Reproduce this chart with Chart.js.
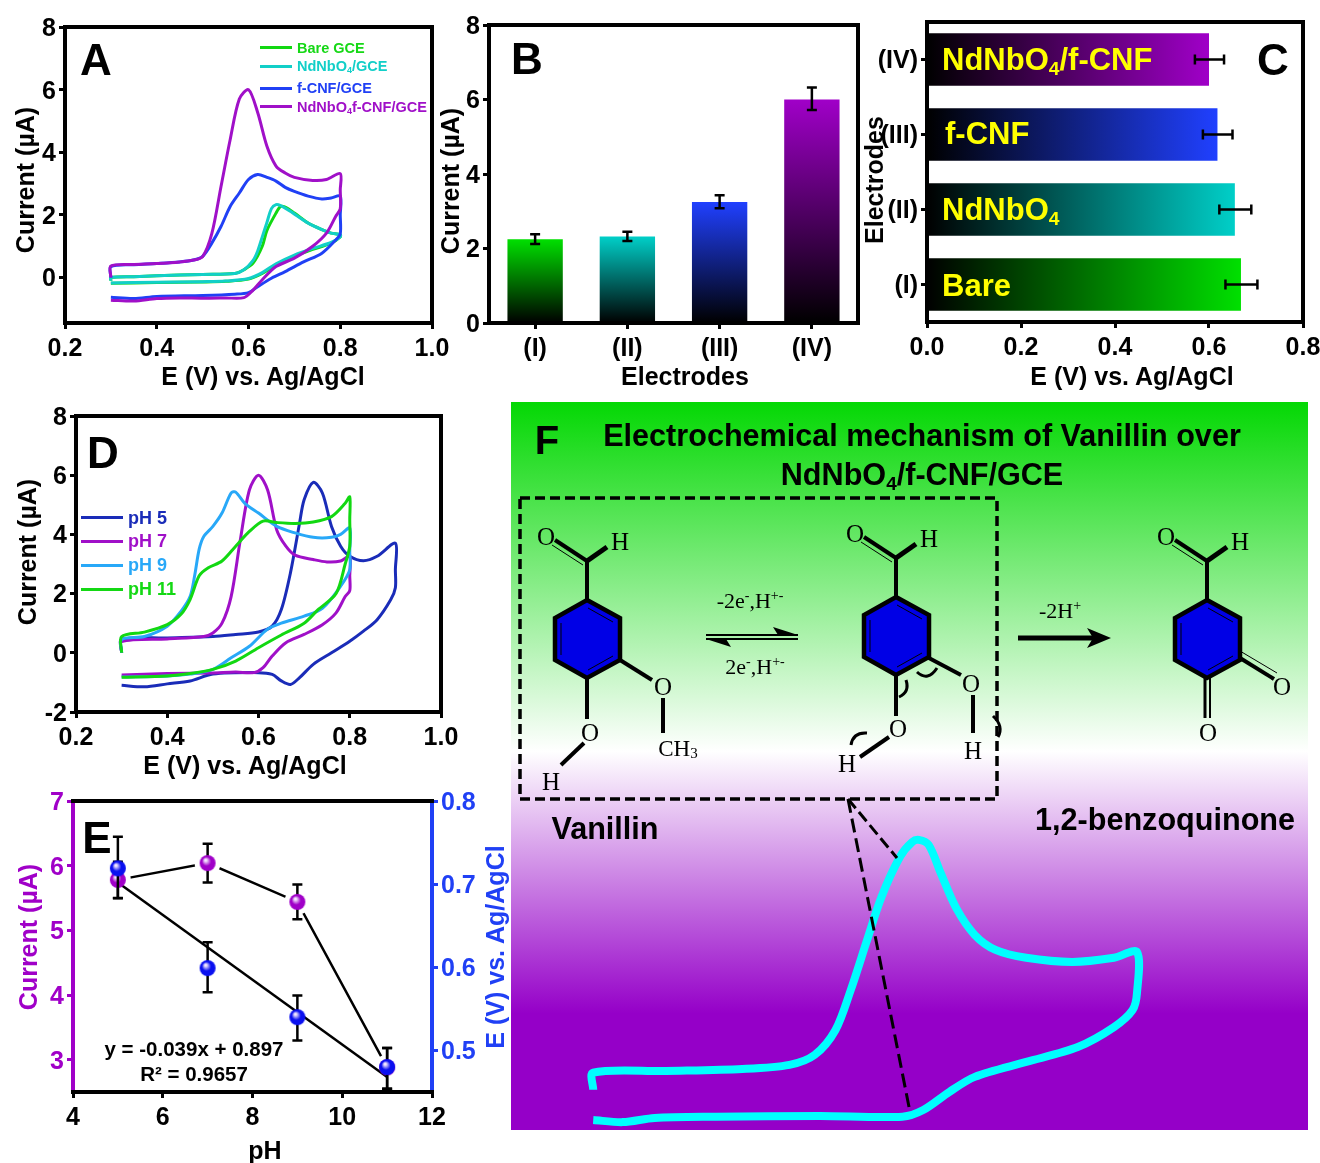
<!DOCTYPE html>
<html>
<head>
<meta charset="utf-8">
<title>Vanillin electrochemistry panels</title>
<script src="https://cdn.jsdelivr.net/npm/chart.js@4"></script>
<style>
    html, body { margin: 0; padding: 0; background: #fff; }
    #page { position: relative; width: 1320px; height: 1163px; overflow: hidden; font-family: "Liberation Sans", Arial, sans-serif; font-weight: bold; }
    canvas { position: absolute; }
    #schemeBg { position: absolute; left: 511px; top: 402px; width: 797px; height: 728px;
        background: linear-gradient(to bottom, #04d804 0%, #ffffff 48%, #9500c8 84%, #9500c8 100%); }
    #scheme { position: absolute; left: 0; top: 0; font-weight: normal; }
    .t { position: absolute; transform: translate(-50%, -50%); white-space: nowrap; line-height: 1; }
    .a { font-size: 25px; }
    .v { transform: translate(-50%, -50%) rotate(-90deg); }
    .l { position: absolute; transform: translateY(-50%); white-space: nowrap; line-height: 1; }
    .key { position: absolute; height: 3px; }
    sub { font-size: 62%; line-height: 0; vertical-align: -0.28em; }
</style>
</head>
<body>
<div id="page">
    <div id="schemeBg"></div>
    <canvas id="chartF"></canvas>
    <canvas id="chartA"></canvas>
    <canvas id="chartB"></canvas>
    <canvas id="chartC"></canvas>
    <canvas id="chartD"></canvas>
    <canvas id="chartE"></canvas>
    <svg id="scheme" width="1320" height="1163"></svg>

    <div class="t" style="left:96px;top:60px;font-size:44px">A</div>
    <div class="t" style="left:527px;top:59px;font-size:44px">B</div>
    <div class="t" style="left:1273px;top:60px;font-size:44px">C</div>
    <div class="t" style="left:103px;top:453px;font-size:44px">D</div>
    <div class="t" style="left:97px;top:838px;font-size:44px">E</div>
    <div class="t" style="left:547px;top:440px;font-size:40px">F</div>

    <!-- axis titles -->
    <div class="t a" style="left:263px;top:376px">E (V) vs. Ag/AgCl</div>
    <div class="t a v" style="left:25px;top:180px">Current (µA)</div>
    <div class="t a" style="left:685px;top:376px">Electrodes</div>
    <div class="t a v" style="left:450px;top:181px">Current (µA)</div>
    <div class="t a" style="left:1132px;top:376px">E (V) vs. Ag/AgCl</div>
    <div class="t a v" style="left:874px;top:180px">Electrodes</div>
    <div class="t a" style="left:245px;top:765px">E (V) vs. Ag/AgCl</div>
    <div class="t a v" style="left:27px;top:552px">Current (µA)</div>
    <div class="t a" style="left:265px;top:1150px">pH</div>
    <div class="t a v" style="left:28px;top:937px;color:#a000c8">Current (µA)</div>
    <div class="t a v" style="left:495px;top:947px;color:#2040f5">E (V) vs. Ag/AgCl</div>

    <div class="key" style="left:260px;top:46px;width:32px;background:#12d812"></div>
    <div class="l" style="left:297px;top:48px;font-size:14.5px;color:#16d816">Bare GCE</div>
    <div class="key" style="left:260px;top:65px;width:32px;background:#12cfc8"></div>
    <div class="l" style="left:297px;top:66px;font-size:14.5px;color:#12cfc8">NdNbO<sub>4</sub>/GCE</div>
    <div class="key" style="left:260px;top:87px;width:32px;background:#2040f5"></div>
    <div class="l" style="left:297px;top:88px;font-size:14.5px;color:#2040f5">f-CNF/GCE</div>
    <div class="key" style="left:260px;top:105px;width:32px;background:#a010c8"></div>
    <div class="l" style="left:297px;top:107px;font-size:14.5px;color:#a010c8">NdNbO<sub>4</sub>f-CNF/GCE</div>

    <div class="l" style="left:942px;top:59px;font-size:31px;color:#ffff00">NdNbO<sub>4</sub>/f-CNF</div>
    <div class="l" style="left:945px;top:133px;font-size:31px;color:#ffff00">f-CNF</div>
    <div class="l" style="left:942px;top:209px;font-size:31px;color:#ffff00">NdNbO<sub>4</sub></div>
    <div class="l" style="left:942px;top:285px;font-size:31px;color:#ffff00">Bare</div>

    <div class="key" style="left:81px;top:516px;width:42px;background:#1a2cb8"></div>
    <div class="l" style="left:128px;top:518px;font-size:18px;color:#1a2cb8">pH 5</div>
    <div class="key" style="left:81px;top:540px;width:42px;background:#a010c8"></div>
    <div class="l" style="left:128px;top:541px;font-size:18px;color:#a010c8">pH 7</div>
    <div class="key" style="left:81px;top:564px;width:42px;background:#28a8f8"></div>
    <div class="l" style="left:128px;top:565px;font-size:18px;color:#28a8f8">pH 9</div>
    <div class="key" style="left:81px;top:588px;width:42px;background:#14d814"></div>
    <div class="l" style="left:128px;top:589px;font-size:18px;color:#14d814">pH 11</div>

    <div class="t" style="left:194px;top:1049px;font-size:20.5px">y = -0.039x + 0.897</div>
    <div class="t" style="left:194px;top:1074px;font-size:20.5px">R² = 0.9657</div>

    <div class="t" style="left:922px;top:435px;font-size:30.6px">Electrochemical mechanism of Vanillin over</div>
    <div class="t" style="left:922px;top:474px;font-size:30.6px">NdNbO<sub>4</sub>/f-CNF/GCE</div>
    <div class="t" style="left:605px;top:828px;font-size:30.6px">Vanillin</div>
    <div class="t" style="left:1165px;top:819px;font-size:30.6px">1,2-benzoquinone</div>
</div>

<script>
    // ========================================================================
    // Data
    // ========================================================================

    const cvXTicks = [0.2, 0.4, 0.6, 0.8, 1.0];

    // Panel A, cyclic voltammograms
    const aYTicks = [0, 2, 4, 6, 8];
    const aBareE = [0.3, 0.3, 0.35, 0.4, 0.5, 0.57, 0.59, 0.61, 0.63, 0.64, 0.66, 0.67, 0.68, 0.70, 0.73, 0.76, 0.78, 0.8, 0.8, 0.78, 0.74, 0.7, 0.66, 0.63, 0.6, 0.55, 0.5, 0.4, 0.3];
    const aBareI = [-0.1, 0.0, 0.03, 0.06, 0.1, 0.13, 0.25, 0.46, 1.0, 1.5, 2.06, 2.27, 2.25, 2.06, 1.74, 1.53, 1.42, 1.37, 1.3, 1.1, 0.9, 0.68, 0.4, 0.13, -0.05, -0.12, -0.14, -0.16, -0.18];
    const aOxideE = [0.3, 0.3, 0.35, 0.4, 0.5, 0.57, 0.59, 0.61, 0.62, 0.63, 0.64, 0.65, 0.66, 0.67, 0.69, 0.73, 0.76, 0.78, 0.8, 0.8, 0.78, 0.74, 0.7, 0.66, 0.63, 0.6, 0.55, 0.5, 0.4, 0.3];
    const aOxideI = [-0.1, 0.0, 0.03, 0.06, 0.1, 0.13, 0.25, 0.55, 0.85, 1.3, 1.75, 2.2, 2.33, 2.3, 2.13, 1.74, 1.53, 1.42, 1.37, 1.3, 1.12, 0.93, 0.72, 0.44, 0.16, -0.03, -0.11, -0.13, -0.15, -0.17];
    const aFiberE = [0.3, 0.3, 0.35, 0.4, 0.45, 0.48, 0.5, 0.52, 0.54, 0.56, 0.58, 0.60, 0.62, 0.64, 0.66, 0.68, 0.7, 0.73, 0.76, 0.78, 0.8, 0.8, 0.8, 0.79, 0.76, 0.72, 0.68, 0.65, 0.62, 0.6, 0.57, 0.5, 0.4, 0.35, 0.3];
    const aFiberI = [0.0, 0.35, 0.41, 0.45, 0.5, 0.56, 0.68, 1.1, 1.63, 2.27, 2.7, 3.13, 3.29, 3.2, 3.08, 2.88, 2.75, 2.6, 2.51, 2.54, 2.6, 2.0, 1.4, 1.2, 0.78, 0.5, 0.19, -0.02, -0.29, -0.48, -0.53, -0.57, -0.6, -0.67, -0.63];
    const aHybridE = [0.3, 0.3, 0.35, 0.4, 0.45, 0.48, 0.5, 0.52, 0.54, 0.56, 0.58, 0.6, 0.62, 0.64, 0.66, 0.68, 0.70, 0.74, 0.77, 0.8, 0.8, 0.8, 0.79, 0.77, 0.74, 0.7, 0.66, 0.63, 0.61, 0.59, 0.55, 0.5, 0.45, 0.4, 0.35, 0.3];
    const aHybridI = [0.0, 0.37, 0.42, 0.45, 0.5, 0.56, 0.67, 1.4, 2.9, 4.4, 5.7, 6.0, 5.27, 4.2, 3.56, 3.34, 3.2, 3.1, 3.13, 3.32, 2.8, 2.2, 1.95, 1.42, 1.0, 0.62, 0.35, -0.07, -0.4, -0.64, -0.65, -0.66, -0.65, -0.67, -0.75, -0.72];

    // Panel B, peak current per electrode
    const bLabels = ['(I)', '(II)', '(III)', '(IV)'];
    const bYTicks = [0, 2, 4, 6, 8];
    const bCurrent = [2.25, 2.32, 3.25, 6.0];
    const bLow = [2.12, 2.2, 3.08, 5.72];
    const bHigh = [2.38, 2.45, 3.43, 6.32];

    // Panel C, peak potential per electrode (top row first)
    const cLabels = ['(IV)', '(III)', '(II)', '(I)'];
    const cXTicks = [0.0, 0.2, 0.4, 0.6, 0.8];
    const cPotential = [0.6, 0.618, 0.655, 0.668];
    const cLow = [0.57, 0.587, 0.622, 0.635];
    const cHigh = [0.632, 0.65, 0.69, 0.703];

    // Panel D, voltammograms at four pH values
    const dYTicks = [-2, 0, 2, 4, 6, 8];
    const dPh5E = [0.3, 0.3, 0.4, 0.5, 0.55, 0.6, 0.63, 0.65, 0.67, 0.69, 0.7, 0.72, 0.74, 0.76, 0.78, 0.8, 0.83, 0.86, 0.9, 0.9, 0.9, 0.89, 0.86, 0.83, 0.8, 0.76, 0.72, 0.69, 0.67, 0.65, 0.63, 0.6, 0.5, 0.45, 0.4, 0.35, 0.3];
    const dPh5I = [0.0, 0.45, 0.5, 0.55, 0.62, 0.7, 0.9, 1.46, 2.7, 4.38, 5.17, 5.76, 5.4, 4.27, 3.6, 3.26, 3.11, 3.26, 3.7, 2.8, 2.2, 1.8, 1.12, 0.73, 0.39, 0.0, -0.39, -0.84, -1.07, -0.95, -0.73, -0.67, -0.72, -0.95, -1.05, -1.15, -1.1];
    const dPh7E = [0.3, 0.3, 0.4, 0.48, 0.5, 0.52, 0.54, 0.56, 0.58, 0.6, 0.62, 0.64, 0.66, 0.68, 0.72, 0.75, 0.78, 0.8, 0.8, 0.8, 0.79, 0.77, 0.74, 0.7, 0.66, 0.63, 0.61, 0.59, 0.55, 0.5, 0.4, 0.3];
    const dPh7I = [0.0, 0.38, 0.47, 0.55, 0.67, 1.0, 1.9, 3.8, 5.5, 6.0, 5.5, 4.15, 3.6, 3.3, 3.15, 3.07, 3.1, 3.26, 2.6, 2.1, 1.9, 1.35, 0.95, 0.62, 0.34, -0.11, -0.5, -0.67, -0.65, -0.68, -0.7, -0.75];
    const dPh9E = [0.3, 0.3, 0.35, 0.4, 0.43, 0.45, 0.46, 0.47, 0.48, 0.5, 0.52, 0.54, 0.55, 0.57, 0.6, 0.64, 0.68, 0.72, 0.76, 0.78, 0.8, 0.8, 0.8, 0.78, 0.74, 0.7, 0.65, 0.62, 0.58, 0.54, 0.5, 0.45, 0.4, 0.3];
    const dPh9I = [0.0, 0.45, 0.55, 0.9, 1.4, 1.9, 2.6, 3.5, 3.93, 4.27, 4.72, 5.4, 5.43, 5.05, 4.72, 4.27, 4.05, 3.9, 3.9, 4.0, 4.22, 3.4, 2.8, 2.25, 1.5, 1.24, 1.0, 0.8, 0.22, -0.17, -0.56, -0.72, -0.78, -0.82];
    const dPh11E = [0.3, 0.3, 0.35, 0.4, 0.43, 0.45, 0.47, 0.49, 0.52, 0.55, 0.58, 0.61, 0.64, 0.68, 0.72, 0.76, 0.79, 0.8, 0.8, 0.8, 0.79, 0.77, 0.73, 0.7, 0.65, 0.6, 0.55, 0.5, 0.45, 0.4, 0.3];
    const dPh11I = [0.0, 0.55, 0.7, 0.95, 1.3, 1.8, 2.6, 2.87, 3.1, 3.6, 4.1, 4.45, 4.4, 4.37, 4.42, 4.6, 5.05, 5.27, 4.5, 3.6, 3.0, 2.0, 1.45, 1.0, 0.6, 0.17, -0.28, -0.56, -0.7, -0.78, -0.83];

    // Panel E, current and potential against pH
    const ePh = [5, 7, 9, 11];
    const eXTicks = [4, 6, 8, 10, 12];
    const eLeftTicks = [3, 4, 5, 6, 7];
    const eRightTicks = [0.5, 0.6, 0.7, 0.8];
    const eCurrent = [5.78, 6.04, 5.44, 2.88];
    const eCurrentLow = [5.5, 5.74, 5.17, 2.55];
    const eCurrentHigh = [6.06, 6.34, 5.71, 3.18];
    const ePotential = [0.719, 0.599, 0.54, 0.48];
    const ePotentialLow = [0.683, 0.57, 0.512, 0.454];
    const ePotentialHigh = [0.757, 0.63, 0.566, 0.503];
    const eFitPh = [5, 11];
    const eFitPotential = [0.702, 0.468];

    // Panel F, cyan voltammogram under the scheme
    const fE = [0.301, 0.301, 0.367, 0.437, 0.48, 0.503, 0.522, 0.536, 0.55, 0.564, 0.581, 0.592, 0.598, 0.607, 0.618, 0.632, 0.649, 0.668, 0.696, 0.738, 0.776, 0.797, 0.797, 0.793, 0.776, 0.743, 0.696, 0.649, 0.626, 0.602, 0.583, 0.508, 0.413, 0.357, 0.328, 0.301];
    const fI = [-0.02, 0.39, 0.43, 0.48, 0.58, 0.82, 1.42, 2.39, 3.52, 4.63, 5.6, 5.95, 6.0, 5.88, 5.2, 4.36, 3.71, 3.35, 3.16, 3.06, 3.16, 3.3, 2.31, 1.9, 1.49, 1.01, 0.65, 0.29, -0.07, -0.51, -0.67, -0.65, -0.67, -0.7, -0.8, -0.75];

    // ========================================================================
    // Helpers and plugins
    // ========================================================================

    const GREEN = '#12d812', TEAL = '#12cfc8', BLUE = '#2040f5', PURPLE = '#a010c8';
    const NAVY = '#1a2cb8', SKY = '#28a8f8';

    Chart.defaults.font.family = '"Liberation Sans", Arial, sans-serif';
    Chart.defaults.font.weight = 'bold';
    Chart.defaults.font.size = 25;
    Chart.defaults.color = '#000';
    Chart.defaults.animation = false;
    Chart.defaults.responsive = false;
    Chart.defaults.devicePixelRatio = 1;
    Chart.defaults.plugins.legend.display = false;
    Chart.defaults.plugins.tooltip.enabled = false;

    const points = (xs, ys) => xs.map((x, i) => ({ x, y: ys[i] }));

    const curve = (label, xs, ys, color, width = 3) => ({
        label,
        data: points(xs, ys),
        borderColor: color,
        borderWidth: width,
        showLine: true,
        pointRadius: 0,
        tension: 0.3
    });

    // Outline of the plot area, one colour per side
    const framePlugin = {
        id: 'frame',
        afterDraw(chart, args, opts) {
            const { ctx, chartArea: a } = chart;
            ctx.save();
            ctx.lineWidth = 4;
            ctx.lineCap = 'square';
            [['left', a.left, a.top, a.left, a.bottom],
             ['right', a.right, a.top, a.right, a.bottom],
             ['top', a.left, a.top, a.right, a.top],
             ['bottom', a.left, a.bottom, a.right, a.bottom]].forEach(([side, x1, y1, x2, y2]) => {
                ctx.strokeStyle = opts[side] || '#000';
                ctx.beginPath();
                ctx.moveTo(x1, y1);
                ctx.lineTo(x2, y2);
                ctx.stroke();
            });
            ctx.restore();
        }
    };

    // Error bars from errLow / errHigh on a dataset, in data units
    function drawErrors(chart, meta, ds) {
        if (!ds.errLow) return;
        const { ctx } = chart;
        const horizontal = chart.options.indexAxis === 'y';
        const cap = 5;
        ctx.save();
        ctx.strokeStyle = '#000';
        ctx.lineWidth = 2.5;
        ds.errLow.forEach((low, i) => {
            const el = meta.data[i];
            ctx.beginPath();
            if (horizontal) {
                const scale = chart.scales[meta.xAxisID];
                const a = scale.getPixelForValue(low), b = scale.getPixelForValue(ds.errHigh[i]);
                ctx.moveTo(a, el.y); ctx.lineTo(b, el.y);
                ctx.moveTo(a, el.y - cap); ctx.lineTo(a, el.y + cap);
                ctx.moveTo(b, el.y - cap); ctx.lineTo(b, el.y + cap);
            } else {
                const scale = chart.scales[meta.yAxisID];
                const a = scale.getPixelForValue(low), b = scale.getPixelForValue(ds.errHigh[i]);
                ctx.moveTo(el.x, a); ctx.lineTo(el.x, b);
                ctx.moveTo(el.x - cap, a); ctx.lineTo(el.x + cap, a);
                ctx.moveTo(el.x - cap, b); ctx.lineTo(el.x + cap, b);
            }
            ctx.stroke();
        });
        ctx.restore();
    }

    const errorBarPlugin = {
        id: 'errorBars',
        beforeDatasetDraw(chart, args, opts) {
            if (opts.behind) drawErrors(chart, args.meta, chart.data.datasets[args.index]);
        },
        afterDatasetDraw(chart, args, opts) {
            if (!opts.behind) drawErrors(chart, args.meta, chart.data.datasets[args.index]);
        }
    };

    function fixSize(size) {
        return scale => {
            scale.paddingLeft = scale.paddingRight = scale.paddingTop = scale.paddingBottom = 0;
            if (scale.isHorizontal()) scale.height = size; else scale.width = size;
        };
    }

    function axis(min, max, tickValues, extra = {}) {
        const { decimals = 0, color = '#000', size, vertical = true } = extra;
        return {
            type: 'linear',
            min,
            max,
            position: extra.position,
            border: { display: false },
            grid: { drawOnChartArea: false, tickLength: 6, tickWidth: 3, tickColor: color },
            afterBuildTicks(scale) { scale.ticks = tickValues.map(value => ({ value })); },
            afterFit: fixSize(size),
            ticks: {
                autoSkip: false,
                maxRotation: 0,
                color,
                padding: vertical ? 3 : 5,
                labelOffset: vertical ? 2 : 0,
                callback: v => v.toFixed(decimals)
            }
        };
    }

    function categoryAxis(size, vertical) {
        return {
            type: 'category',
            border: { display: false },
            grid: { offset: false, drawOnChartArea: false, tickLength: 6, tickWidth: 3, tickColor: '#000' },
            afterFit: fixSize(size),
            ticks: { autoSkip: false, maxRotation: 0, padding: vertical ? 3 : 5, labelOffset: vertical ? 2 : 0 }
        };
    }

    // Puts a canvas at box and fixes the plot area to plot, both in page pixels
    function place(id, box, plot) {
        const canvas = document.getElementById(id);
        canvas.style.left = box.l + 'px';
        canvas.style.top = box.t + 'px';
        canvas.width = box.r - box.l;
        canvas.height = box.b - box.t;
        return {
            canvas,
            padding: { left: 0, top: plot.t - box.t, right: box.r - plot.r, bottom: 0 },
            xSize: box.b - plot.b,
            ySize: plot.l - box.l
        };
    }

    function barGradient(colors, horizontal) {
        return c => {
            const { chart, dataIndex, parsed } = c;
            if (!chart.chartArea || !parsed) return colors[dataIndex];
            const g = horizontal
                ? chart.ctx.createLinearGradient(chart.scales.x.getPixelForValue(0), 0, chart.scales.x.getPixelForValue(parsed.x), 0)
                : chart.ctx.createLinearGradient(0, chart.scales.y.getPixelForValue(0), 0, chart.scales.y.getPixelForValue(parsed.y));
            g.addColorStop(0, '#000');
            g.addColorStop(1, colors[dataIndex]);
            return g;
        };
    }

    function sphere(color) {
        const c = document.createElement('canvas');
        c.width = c.height = 18;
        const g2 = c.getContext('2d');
        const g = g2.createRadialGradient(7, 6, 1, 9, 9, 9);
        g.addColorStop(0, '#f4e8ff');
        g.addColorStop(0.45, color);
        g.addColorStop(1, color);
        g2.fillStyle = g;
        g2.beginPath();
        g2.arc(9, 9, 8, 0, Math.PI * 2);
        g2.fill();
        return c;
    }

    // ========================================================================
    // Panels A to F
    // ========================================================================

    const boxA = place('chartA', { l: 10, t: 5, r: 450, b: 391 }, { l: 65, t: 27, r: 432, b: 323 });
    new Chart(boxA.canvas, {
        type: 'scatter',
        data: { datasets: [
            curve('NdNbO4/f-CNF/GCE', aHybridE, aHybridI, PURPLE),
            curve('f-CNF/GCE', aFiberE, aFiberI, BLUE),
            curve('NdNbO4/GCE', aOxideE, aOxideI, TEAL),
            curve('Bare GCE', aBareE, aBareI, GREEN)
        ] },
        options: {
            layout: { padding: boxA.padding },
            scales: {
                x: axis(0.2, 1.0, cvXTicks, { decimals: 1, vertical: false, size: boxA.xSize }),
                y: axis(-1.45, 8, aYTicks, { size: boxA.ySize })
            }
        },
        plugins: [framePlugin]
    });

    const boxB = place('chartB', { l: 436, t: 5, r: 870, b: 391 }, { l: 489, t: 25, r: 858, b: 323 });
    new Chart(boxB.canvas, {
        type: 'bar',
        data: {
            labels: bLabels,
            datasets: [{
                data: bCurrent,
                errLow: bLow,
                errHigh: bHigh,
                backgroundColor: barGradient(['#00e000', '#00cfc8', '#2040ff', '#a000c8'], false),
                barPercentage: 0.6,
                categoryPercentage: 1
            }]
        },
        options: {
            layout: { padding: boxB.padding },
            scales: {
                x: categoryAxis(boxB.xSize, false),
                y: axis(0, 8, bYTicks, { size: boxB.ySize })
            }
        },
        plugins: [errorBarPlugin, framePlugin]
    });

    const boxC = place('chartC', { l: 861, t: 5, r: 1320, b: 391 }, { l: 927, t: 22, r: 1303, b: 322 });
    new Chart(boxC.canvas, {
        type: 'bar',
        data: {
            labels: cLabels,
            datasets: [{
                data: cPotential,
                errLow: cLow,
                errHigh: cHigh,
                backgroundColor: barGradient(['#a000c8', '#2040ff', '#00cfc8', '#00e000'], true),
                barPercentage: 0.7,
                categoryPercentage: 1
            }]
        },
        options: {
            indexAxis: 'y',
            layout: { padding: boxC.padding },
            scales: {
                x: axis(0, 0.8, cXTicks, { decimals: 1, vertical: false, size: boxC.xSize }),
                y: categoryAxis(boxC.ySize, true)
            }
        },
        plugins: [errorBarPlugin, framePlugin]
    });

    const boxD = place('chartD', { l: 13, t: 400, r: 470, b: 779 }, { l: 76, t: 416, r: 441, b: 712 });
    new Chart(boxD.canvas, {
        type: 'scatter',
        data: { datasets: [
            curve('pH 11', dPh11E, dPh11I, GREEN),
            curve('pH 9', dPh9E, dPh9I, SKY),
            curve('pH 7', dPh7E, dPh7I, PURPLE),
            curve('pH 5', dPh5E, dPh5I, NAVY)
        ] },
        options: {
            layout: { padding: boxD.padding },
            scales: {
                x: axis(0.2, 1.0, cvXTicks, { decimals: 1, vertical: false, size: boxD.xSize }),
                y: axis(-2, 8, dYTicks, { size: boxD.ySize })
            }
        },
        plugins: [framePlugin]
    });

    const boxE = place('chartE', { l: 14, t: 785, r: 520, b: 1163 }, { l: 73, t: 801, r: 432, b: 1092 });
    new Chart(boxE.canvas, {
        type: 'scatter',
        data: { datasets: [
            {
                label: 'E vs pH',
                data: points(ePh, ePotential),
                yAxisID: 'y1',
                errLow: ePotentialLow,
                errHigh: ePotentialHigh,
                pointStyle: sphere('#0a10f0'),
                pointRadius: 8
            },
            {
                label: 'Current vs pH',
                data: points(ePh, eCurrent),
                errLow: eCurrentLow,
                errHigh: eCurrentHigh,
                pointStyle: sphere('#a000c8'),
                pointRadius: 8
            },
            {
                label: 'Linear fit',
                data: points(eFitPh, eFitPotential),
                yAxisID: 'y1',
                showLine: true,
                borderColor: '#000',
                borderWidth: 2.5,
                pointRadius: 0
            },
            {
                label: 'Current line',
                data: points(ePh, eCurrent),
                showLine: true,
                borderColor: '#000',
                borderWidth: 2.5,
                pointRadius: 13,
                pointBackgroundColor: '#fff',
                pointBorderWidth: 0
            }
        ] },
        options: {
            layout: { padding: { ...boxE.padding, right: 0 } },
            scales: {
                x: axis(4, 12, eXTicks, { vertical: false, size: boxE.xSize }),
                y: axis(2.5, 7, eLeftTicks, { color: '#a000c8', size: boxE.ySize }),
                y1: axis(0.45, 0.8, eRightTicks, { decimals: 1, color: BLUE, position: 'right', size: 88 })
            },
            plugins: {
                errorBars: { behind: true },
                frame: { left: '#a000c8', right: BLUE }
            }
        },
        plugins: [errorBarPlugin, framePlugin]
    });

    // Axes hidden, E and I scales chosen so the loop sits where the scheme has it
    const boxF = place('chartF', { l: 511, t: 402, r: 1308, b: 1130 }, { l: 511, t: 402, r: 1308, b: 1130 });
    new Chart(boxF.canvas, {
        type: 'scatter',
        data: { datasets: [curve('Vanillin CV', fE, fI, '#00ffff', 8)] },
        options: {
            layout: { padding: 0 },
            scales: {
                x: { display: false, min: 0.226, max: 0.953 },
                y: { display: false, min: -0.99, max: 16.55 }
            }
        }
    });

    // ========================================================================
    // Reaction scheme over panel F
    // ========================================================================

    const atom = (x, y, label) =>
        `<text x="${x}" y="${y}" text-anchor="middle" dominant-baseline="central" font-family="Liberation Serif" font-size="25" fill="#000">${label}</text>`;
    const bond = (x1, y1, x2, y2, w = 4) =>
        `<line x1="${x1}" y1="${y1}" x2="${x2}" y2="${y2}" stroke="#000" stroke-width="${w}"/>`;

    // Ring with its aldehyde group, (x, y) is the top ring atom
    function ring(x, y) {
        return `<polygon points="${x},${y} ${x + 33},${y + 18} ${x + 33},${y + 60} ${x},${y + 78} ${x - 32},${y + 60} ${x - 32},${y + 18}"
                    fill="#0000e6" stroke="#000" stroke-width="4.5" stroke-linejoin="miter"/>`
            + bond(x + 1, y + 8, x + 26, y + 22, 1)
            + bond(x - 26, y + 23, x - 26, y + 55, 1)
            + bond(x + 26, y + 56, x + 1, y + 70, 1)
            + bond(x, y, x, y - 39)
            + bond(x, y - 39, x - 32, y - 60)
            + bond(x - 4, y - 35, x - 35, y - 55, 1)
            + bond(x, y - 39, x + 20, y - 53, 5)
            + atom(x - 41, y - 64, 'O')
            + atom(x + 33, y - 59, 'H');
    }

    const curl = (d) => `<path d="${d}" fill="none" stroke="#000" stroke-width="3"/>`;

    document.getElementById('scheme').innerHTML = [
        `<rect x="520" y="498" width="477" height="301" fill="none" stroke="#000" stroke-width="3.5" stroke-dasharray="10 5"/>`,
        `<line x1="848" y1="799" x2="910" y2="1112" stroke="#000" stroke-width="3" stroke-dasharray="14 6"/>`,
        `<line x1="848" y1="799" x2="897" y2="858" stroke="#000" stroke-width="3" stroke-dasharray="12 5"/>`,

        // Vanillin
        ring(587, 600),
        bond(620, 660, 652, 680), atom(663, 686, 'O'), bond(663, 698, 663, 733),
        `<text x="678" y="748" text-anchor="middle" dominant-baseline="central" font-family="Liberation Serif" font-size="23">CH<tspan font-size="15" dy="5">3</tspan></text>`,
        bond(587, 678, 587, 719), atom(590, 732, 'O'), bond(584, 743, 561, 765), atom(551, 781, 'H'),

        // Intermediate
        ring(896, 597),
        bond(927, 657, 961, 675), atom(971, 683, 'O'), bond(973, 695, 973, 733), atom(973, 750, 'H'),
        bond(896, 675, 896, 716), atom(898, 728, 'O'), bond(889, 737, 860, 757), atom(847, 763, 'H'),
        curl('M917 672 Q928 682 937 668'), curl('M906 680 Q910 692 899 697'),
        curl('M851 745 Q853 732 867 733'), curl('M993 716 Q1004 726 998 737'),

        // Benzoquinone
        ring(1207, 600),
        bond(1240, 658, 1274, 679), bond(1240, 651, 1277, 673, 1), atom(1282, 686, 'O'),
        bond(1205, 678, 1205, 718, 3), bond(1210, 678, 1210, 718, 2), atom(1208, 732, 'O'),

        // Arrows
        `<line x1="706" y1="635" x2="798" y2="635" stroke="#000" stroke-width="2"/><path d="M798 635 L773 627 L778 635 Z" fill="#000"/>`,
        `<line x1="706" y1="639" x2="798" y2="639" stroke="#000" stroke-width="2"/><path d="M706 639 L731 647 L726 639 Z" fill="#000"/>`,
        `<line x1="1018" y1="638" x2="1095" y2="638" stroke="#000" stroke-width="5"/><path d="M1111 638 L1087 628 L1093 638 L1087 648 Z" fill="#000"/>`,
        `<text x="750" y="608" text-anchor="middle" font-family="Liberation Serif" font-size="22">-2e<tspan font-size="14" dy="-8">-</tspan><tspan dy="8">,H</tspan><tspan font-size="14" dy="-8">+-</tspan></text>`,
        `<text x="755" y="674" text-anchor="middle" font-family="Liberation Serif" font-size="22">2e<tspan font-size="14" dy="-8">-</tspan><tspan dy="8">,H</tspan><tspan font-size="14" dy="-8">+-</tspan></text>`,
        `<text x="1060" y="618" text-anchor="middle" font-family="Liberation Serif" font-size="22">-2H<tspan font-size="14" dy="-8">+</tspan></text>`
    ].join('');
</script>
</body>
</html>
